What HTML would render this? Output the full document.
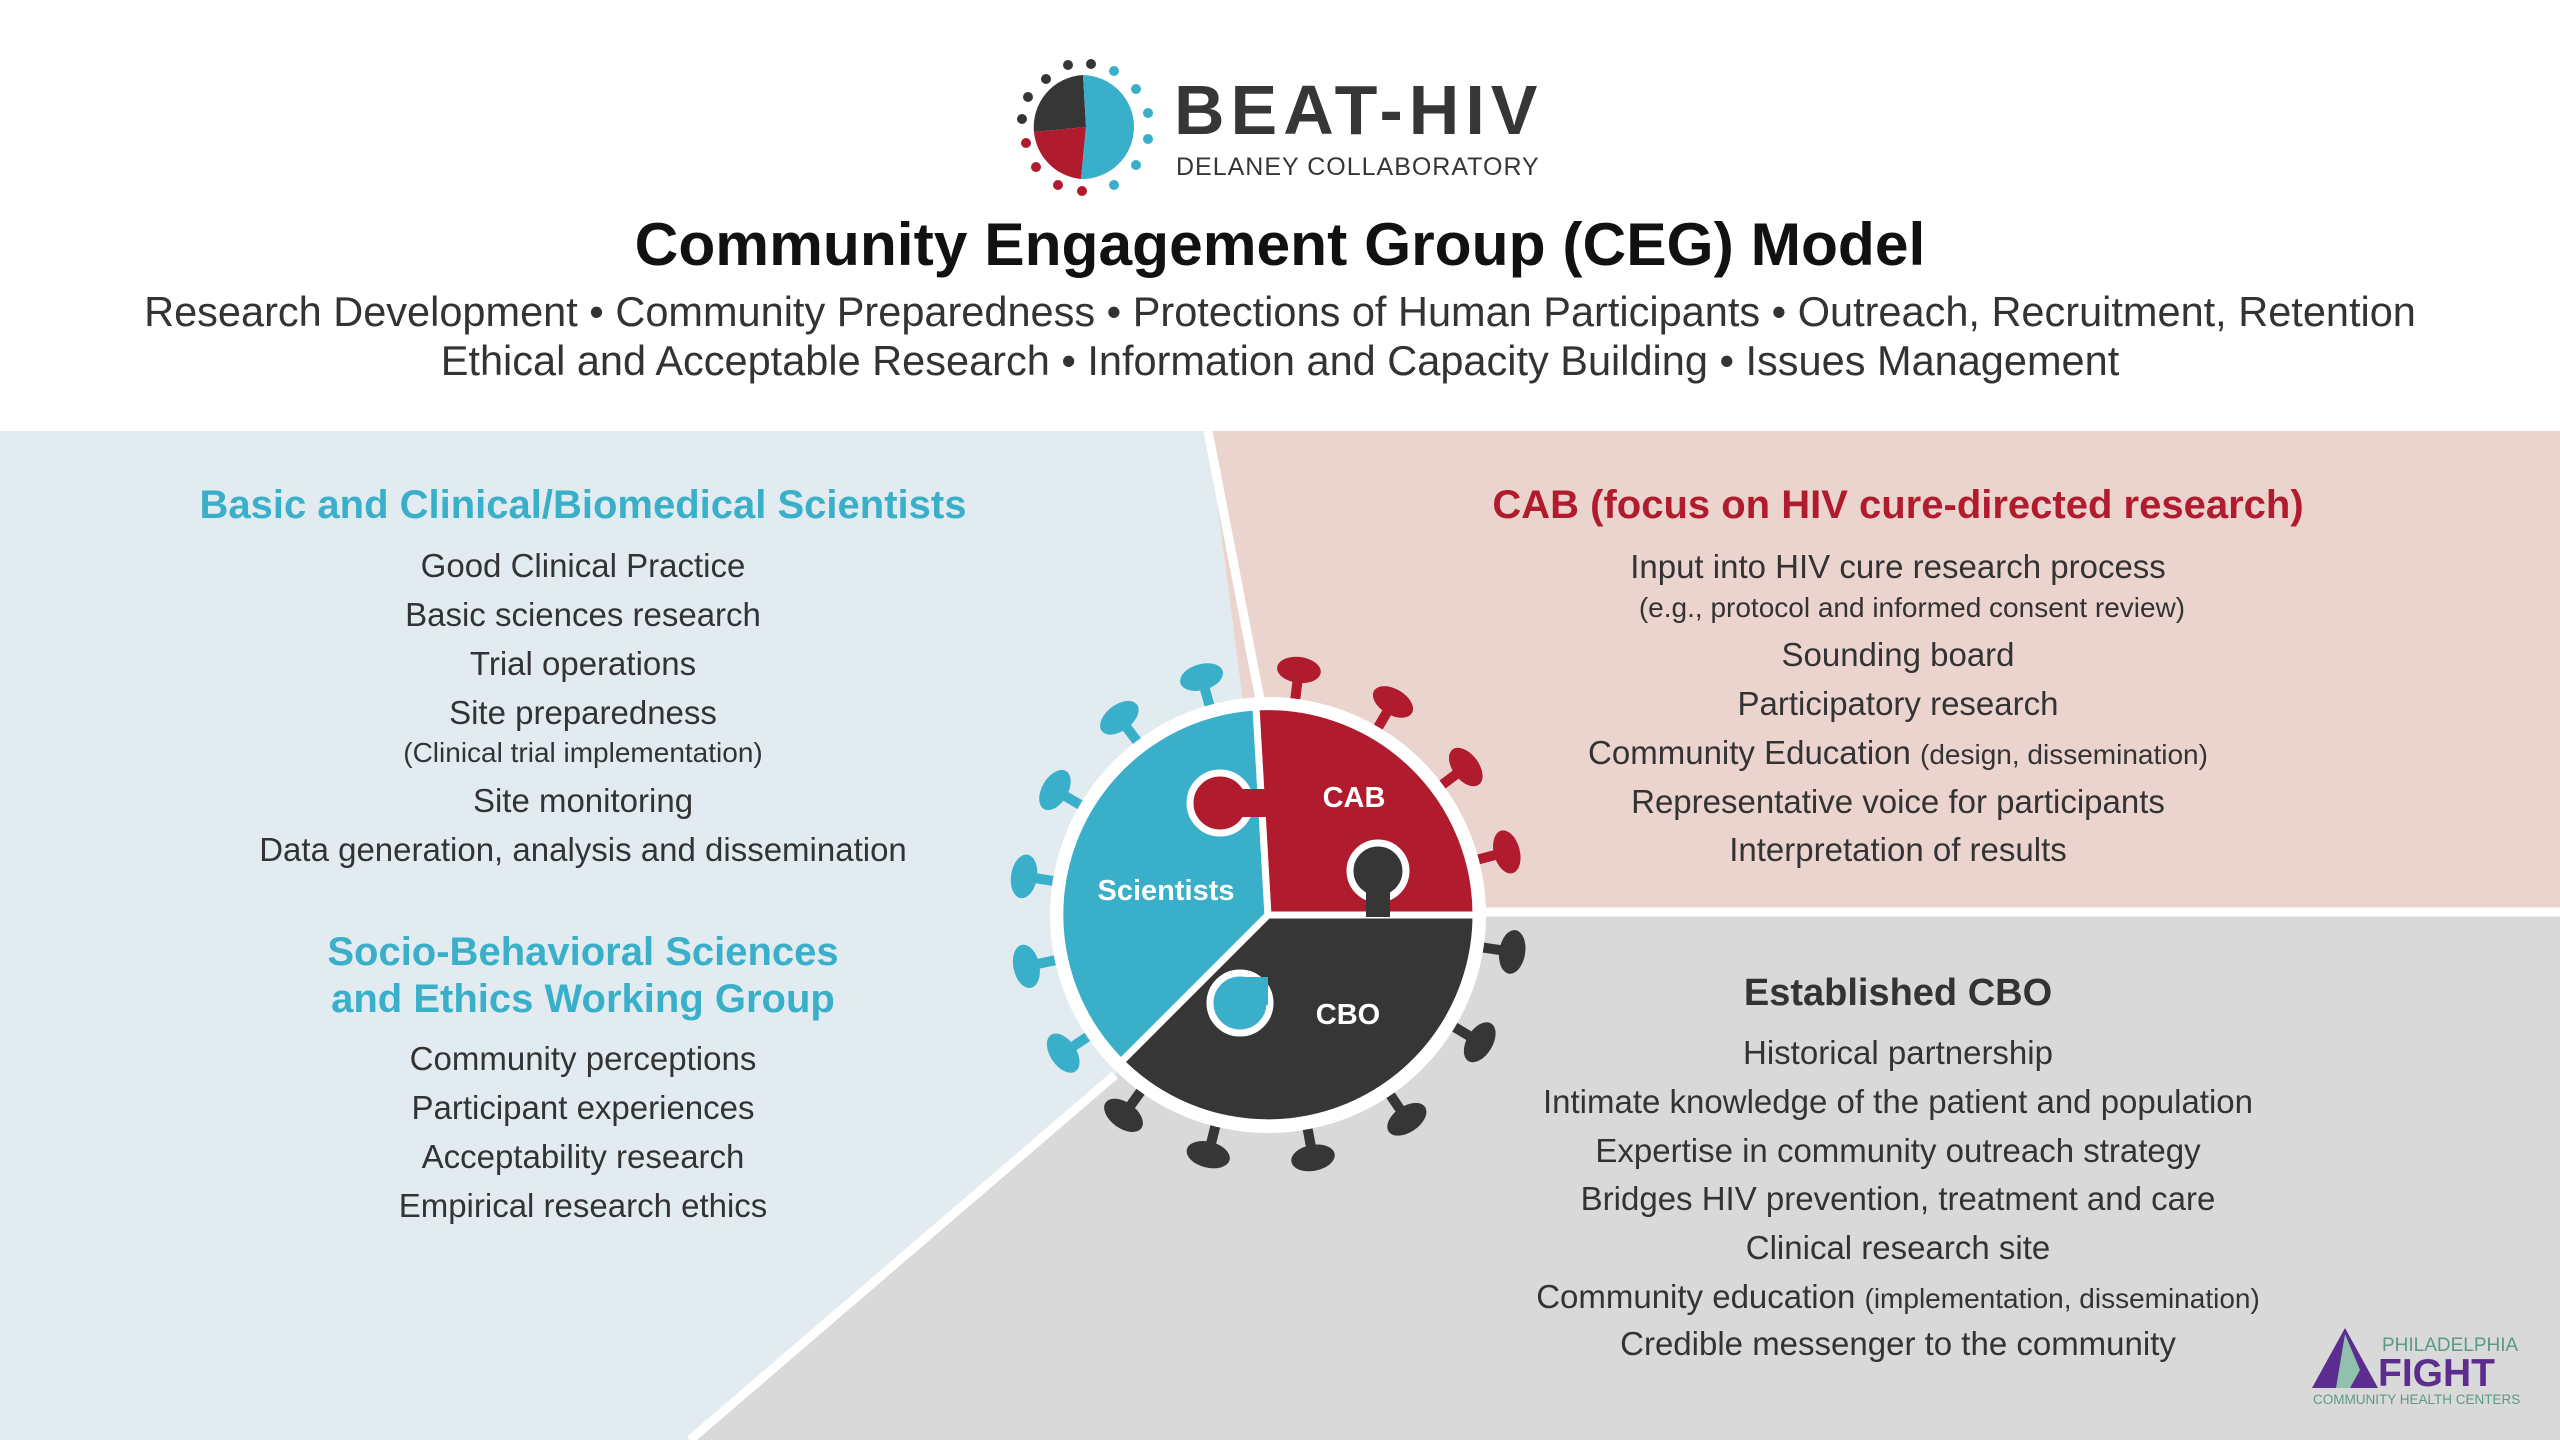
<!DOCTYPE html>
<html><head><meta charset="utf-8"><style>
body{margin:0;width:2560px;height:1440px;overflow:hidden;background:#fff;font-family:"Liberation Sans",sans-serif;}
svg{position:absolute;left:0;top:0}
</style></head><body>
<svg width="2560" height="1440" viewBox="0 0 2560 1440" xmlns="http://www.w3.org/2000/svg" font-family="Liberation Sans, sans-serif">
<rect x="0" y="431" width="2560" height="1009" fill="#e2ecf0"/>
<polygon points="1208,431 2560,431 2560,912 1270,912" fill="#ecd4ce"/>
<polygon points="1270,912 2560,912 2560,1440 690,1440 1115,1075" fill="#d9d9d9"/>
<line x1="1208" y1="431" x2="1262" y2="710" stroke="#fff" stroke-width="9"/>
<line x1="1460" y1="912" x2="2560" y2="912" stroke="#fff" stroke-width="9"/>
<line x1="690" y1="1440" x2="1115" y2="1075" stroke="#fff" stroke-width="9"/>

<!-- logo -->
<g transform="translate(1086,127)">
<circle r="52" fill="#fff"/>
<path d="M0,0 L-3,-52 A52,52 0 0,0 -52,5 Z" fill="#363636"/>
<path d="M0,0 L-52,5 A52,52 0 0,0 -5,52 Z" fill="#b01c2e"/>
<path d="M0,0 L-5,52 A52,52 0 0,0 -3,-52 Z" fill="#3aafca"/>
<g fill="#363636"><circle cx="-40" cy="-48" r="5"/><circle cx="-18" cy="-62" r="5"/><circle cx="5" cy="-63" r="5"/><circle cx="-58" cy="-30" r="5"/><circle cx="-64" cy="-8" r="5"/></g>
<g fill="#3aafca"><circle cx="28" cy="-56" r="5"/><circle cx="50" cy="-38" r="5"/><circle cx="62" cy="-14" r="5"/><circle cx="62" cy="12" r="5"/><circle cx="50" cy="38" r="5"/><circle cx="28" cy="58" r="5"/></g>
<g fill="#b01c2e"><circle cx="-60" cy="16" r="5"/><circle cx="-50" cy="40" r="5"/><circle cx="-28" cy="58" r="5"/><circle cx="-4" cy="64" r="5"/></g>
</g>
<text x="1174" y="134" font-size="70" font-weight="bold" fill="#363636" letter-spacing="6">BEAT-HIV</text>
<text x="1176" y="175" font-size="25" fill="#363636" letter-spacing="1">DELANEY COLLABORATORY</text>

<text x="1280" y="265" font-size="60.5" font-weight="bold" fill="#111" text-anchor="middle">Community Engagement Group (CEG) Model</text>
<g font-size="41.5" fill="#333" text-anchor="middle">
<text x="1280" y="326">Research Development • Community Preparedness • Protections of Human Participants • Outreach, Recruitment, Retention</text>
<text x="1280" y="375">Ethical and Acceptable Research • Information and Capacity Building • Issues Management</text>
</g>

<!-- left text -->
<g text-anchor="middle" fill="#333" font-size="33">
<text x="583" y="518" font-size="40" font-weight="bold" fill="#3aafca">Basic and Clinical/Biomedical Scientists</text>
<text x="583" y="577">Good Clinical Practice</text>
<text x="583" y="626">Basic sciences research</text>
<text x="583" y="675">Trial operations</text>
<text x="583" y="724">Site preparedness</text>
<text x="583" y="762" font-size="28">(Clinical trial implementation)</text>
<text x="583" y="812">Site monitoring</text>
<text x="583" y="861">Data generation, analysis and dissemination</text>
<text x="583" y="965" font-size="40" font-weight="bold" fill="#3aafca">Socio-Behavioral Sciences</text>
<text x="583" y="1012" font-size="40" font-weight="bold" fill="#3aafca">and Ethics Working Group</text>
<text x="583" y="1070">Community perceptions</text>
<text x="583" y="1119">Participant experiences</text>
<text x="583" y="1168">Acceptability research</text>
<text x="583" y="1217">Empirical research ethics</text>
</g>
<!-- right text -->
<g text-anchor="middle" fill="#333" font-size="33">
<text x="1898" y="518" font-size="40" font-weight="bold" fill="#b01c2e">CAB (focus on HIV cure-directed research)</text>
<text x="1898" y="578">Input into HIV cure research process</text>
<text x="1912" y="617" font-size="28">(e.g., protocol and informed consent review)</text>
<text x="1898" y="666">Sounding board</text>
<text x="1898" y="715">Participatory research</text>
<text x="1898" y="764">Community Education <tspan font-size="28">(design, dissemination)</tspan></text>
<text x="1898" y="813">Representative voice for participants</text>
<text x="1898" y="861">Interpretation of results</text>
<text x="1898" y="1005" font-size="38" font-weight="bold" fill="#333">Established CBO</text>
<text x="1898" y="1064">Historical partnership</text>
<text x="1898" y="1113">Intimate knowledge of the patient and population</text>
<text x="1898" y="1162">Expertise in community outreach strategy</text>
<text x="1898" y="1210">Bridges HIV prevention, treatment and care</text>
<text x="1898" y="1259">Clinical research site</text>
<text x="1898" y="1308">Community education <tspan font-size="28">(implementation, dissemination)</tspan></text>
<text x="1898" y="1355">Credible messenger to the community</text>
</g>

<!-- virus -->
<g transform="translate(1268,915)">
<g fill="#3aafca">
<g transform="rotate(-105.6)"><rect x="205" y="-5" width="38" height="10"/><ellipse cx="247" cy="0" rx="13" ry="22"/></g>
<g transform="rotate(-127)"><rect x="205" y="-5" width="38" height="10"/><ellipse cx="247" cy="0" rx="13" ry="22"/></g>
<g transform="rotate(-149.6)"><rect x="205" y="-5" width="38" height="10"/><ellipse cx="247" cy="0" rx="13" ry="22"/></g>
<g transform="rotate(-171)"><rect x="205" y="-5" width="38" height="10"/><ellipse cx="247" cy="0" rx="13" ry="22"/></g>
<g transform="rotate(168)"><rect x="205" y="-5" width="38" height="10"/><ellipse cx="247" cy="0" rx="13" ry="22"/></g>
<g transform="rotate(146)"><rect x="205" y="-5" width="38" height="10"/><ellipse cx="247" cy="0" rx="13" ry="22"/></g>
</g>
<g fill="#b01c2e">
<g transform="rotate(-82.8)"><rect x="205" y="-5" width="38" height="10"/><ellipse cx="247" cy="0" rx="13" ry="22"/></g>
<g transform="rotate(-59.6)"><rect x="205" y="-5" width="38" height="10"/><ellipse cx="247" cy="0" rx="13" ry="22"/></g>
<g transform="rotate(-36.8)"><rect x="205" y="-5" width="38" height="10"/><ellipse cx="247" cy="0" rx="13" ry="22"/></g>
<g transform="rotate(-14.8)"><rect x="205" y="-5" width="38" height="10"/><ellipse cx="247" cy="0" rx="13" ry="22"/></g>
</g>
<g fill="#363636">
<g transform="rotate(8.6)"><rect x="205" y="-5" width="38" height="10"/><ellipse cx="247" cy="0" rx="13" ry="22"/></g>
<g transform="rotate(31)"><rect x="205" y="-5" width="38" height="10"/><ellipse cx="247" cy="0" rx="13" ry="22"/></g>
<g transform="rotate(55.8)"><rect x="205" y="-5" width="38" height="10"/><ellipse cx="247" cy="0" rx="13" ry="22"/></g>
<g transform="rotate(79.5)"><rect x="205" y="-5" width="38" height="10"/><ellipse cx="247" cy="0" rx="13" ry="22"/></g>
<g transform="rotate(104)"><rect x="205" y="-5" width="38" height="10"/><ellipse cx="247" cy="0" rx="13" ry="22"/></g>
<g transform="rotate(125.8)"><rect x="205" y="-5" width="38" height="10"/><ellipse cx="247" cy="0" rx="13" ry="22"/></g>
</g>
<circle r="218" fill="#fff"/>
<g stroke="#fff" stroke-width="7" stroke-linejoin="round">
<path d="M0,0 L-12,-208 A208,208 0 0,0 -147,147 Z" fill="#3aafca"/>
<path d="M0,0 L208,0 A208,208 0 0,0 -12,-208 Z" fill="#b01c2e"/>
<path d="M0,0 L-147,147 A208,208 0 0,0 208,0 Z" fill="#363636"/>
<circle cx="-48" cy="-112" r="30" fill="#b01c2e"/>
<circle cx="110" cy="-44" r="28" fill="#363636"/>
<circle cx="-28" cy="88" r="30" fill="#3aafca"/>
</g>
<rect x="-26" y="-126" width="24" height="28" fill="#b01c2e"/>
<rect x="98" y="-24" width="24" height="26" fill="#363636"/>
<rect x="-22" y="62" width="22" height="28" fill="#3aafca"/>
<g fill="#fff" font-weight="bold" font-size="29" text-anchor="middle">
<text x="-102" y="-15">Scientists</text>
<text x="86" y="-108">CAB</text>
<text x="80" y="109">CBO</text>
</g>
</g>

<!-- fight logo -->
<polygon points="2345,1328 2378,1388 2312,1388" fill="#5b2d8f"/>
<polygon points="2345,1334 2360,1370 2350,1388 2336,1388" fill="#8fc1ad"/>
<text x="2382" y="1351" font-size="19" fill="#5a9a86">PHILADELPHIA</text>
<text x="2378" y="1386" font-size="39" font-weight="bold" fill="#5b2d8f">FIGHT</text>
<text x="2313" y="1404" font-size="13.5" fill="#5a9a86">COMMUNITY HEALTH CENTERS</text>
</svg>
</body></html>
